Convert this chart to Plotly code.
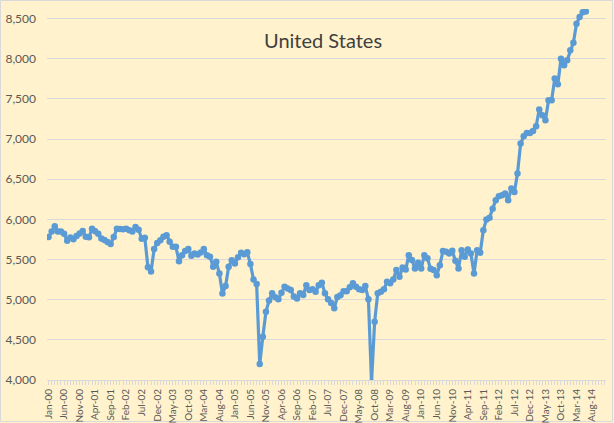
import plotly.graph_objects as go

# Monthly US crude oil production (thousand barrels per day), Jan-2000 .. Jun-2014
y2000 = [5780, 5850, 5915, 5850, 5850, 5820, 5735, 5775, 5752, 5792, 5825, 5857]
y2001 = [5785, 5778, 5883, 5853, 5820, 5762, 5742, 5717, 5695, 5780, 5882, 5880]
y2002 = [5878, 5882, 5866, 5850, 5905, 5870, 5760, 5770, 5405, 5350, 5630, 5705]
y2003 = [5741, 5783, 5804, 5721, 5659, 5659, 5480, 5555, 5605, 5630, 5547, 5576]
y2004 = [5563, 5588, 5630, 5555, 5534, 5409, 5471, 5327, 5078, 5170, 5410, 5490]
y2005 = [5450, 5530, 5584, 5567, 5592, 5443, 5252, 5194, 4199, 4540, 4850, 4990]
y2006 = [5080, 5030, 5005, 5085, 5160, 5140, 5120, 5040, 5015, 5080, 5060, 5180]
y2007 = [5120, 5130, 5100, 5180, 5210, 5080, 5005, 4960, 4895, 5035, 5055, 5105]
y2008 = [5105, 5155, 5205, 5160, 5130, 5120, 5170, 5005, 3970, 4725, 5080, 5100]
y2009 = [5130, 5225, 5205, 5250, 5370, 5285, 5400, 5375, 5555, 5495, 5390, 5460]
y2010 = [5390, 5555, 5515, 5385, 5370, 5305, 5430, 5605, 5597, 5576, 5609, 5484]
y2011 = [5390, 5617, 5535, 5625, 5576, 5327, 5617, 5584, 5866, 5998, 6022, 6134]
y2012 = [6239, 6289, 6301, 6322, 6239, 6384, 6342, 6571, 6944, 7035, 7077, 7077]
y2013 = [7102, 7160, 7368, 7297, 7235, 7484, 7484, 7753, 7682, 8002, 7918, 7981]
y2014 = [8105, 8201, 8437, 8520, 8578, 8590]

years = ["00", "01", "02", "03", "04", "05", "06", "07", "08", "09", "10", "11", "12", "13", "14"]
month_names = ["Jan", "Feb", "Mar", "Apr", "May", "Jun", "Jul", "Aug", "Sep", "Oct", "Nov", "Dec"]

values = (y2000 + y2001 + y2002 + y2003 + y2004 + y2005 + y2006 + y2007 + y2008
          + y2009 + y2010 + y2011 + y2012 + y2013 + y2014)
categories = [f"{m}-{y}" for y in years for m in month_names]  # Jan-00 .. Dec-14 (axis)
x_idx = list(range(len(values)))

tick_step = 5
tickvals = list(range(0, len(categories), tick_step))
ticktext = [categories[i] for i in tickvals]

bg = "#FFF2CC"
line_col = "#5B9BD5"
txt = "#595959"
grid = "#D9D9D9"

W, H = 614, 423
ML, MR, MT, MB = 47, 8, 9, 43
PW, PH = W - ML - MR, H - MT - MB

fig = go.Figure()
fig.add_trace(go.Scatter(
    x=x_idx, y=values, mode="lines+markers",
    line=dict(color=line_col, width=3.2),
    marker=dict(color=line_col, size=6.5, symbol="circle"),
    showlegend=False, hoverinfo="skip",
))

fig.update_layout(
    width=W, height=H,
    margin=dict(l=ML, r=MR, t=MT, b=MB, autoexpand=False),
    paper_bgcolor=bg, plot_bgcolor=bg,
    font=dict(family="Lato, 'Open Sans', sans-serif", color=txt),
    annotations=[dict(
        text="United States",
        x=(323 - ML) / PW, y=1 - (40 - MT) / PH,
        xref="paper", yref="paper", xanchor="center", yanchor="middle",
        showarrow=False, font=dict(size=20, color="#404040"),
    )],
    shapes=[dict(
        type="rect", xref="paper", yref="paper",
        x0=(0.5 - ML) / PW, x1=(W - 1.5 - ML) / PW,
        y0=-(MB - 1.5) / PH, y1=1 + (MT - 0.5) / PH,
        line=dict(color=grid, width=1), fillcolor="rgba(0,0,0,0)", layer="below",
    )],
)

fig.update_xaxes(
    automargin=False,
    range=[-0.5, len(categories) - 0.5],
    tickmode="array", tickvals=tickvals, ticktext=ticktext,
    tickangle=-90, tickfont=dict(size=10, color=txt),
    showgrid=False, zeroline=False,
    showline=True, linecolor=grid, linewidth=1,
    ticks="outside", ticklen=4, tickcolor=grid,
    minor=dict(dtick=1, tick0=0, ticks="outside", ticklen=4, tickcolor=grid, showgrid=False),
)
fig.update_yaxes(
    automargin=False,
    range=[4000, 8620],
    tickmode="array", tickvals=list(range(4000, 8501, 500)),
    tickformat=",", tickfont=dict(size=12, color=txt),
    ticklabelstandoff=10,
    showgrid=True, gridcolor=grid, gridwidth=1,
    zeroline=False, showline=False, ticks="",
)

fig.write_html(
    "out.html",
    config={"displayModeBar": False, "staticPlot": True},
    post_script="document.body.style.margin='0px';document.body.style.padding='0px';"
                "document.body.style.overflow='hidden';",
)
